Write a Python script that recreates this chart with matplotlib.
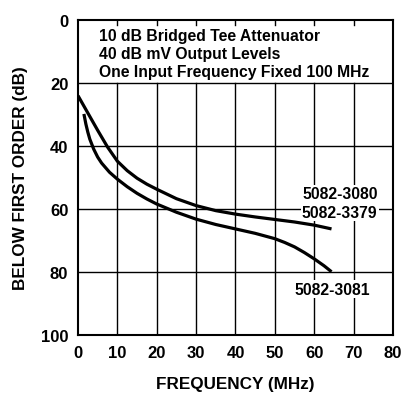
import matplotlib
matplotlib.use("Agg")
import matplotlib.pyplot as plt

plt.rcParams["font.family"] = ["Liberation Sans", "DejaVu Sans"]
plt.rcParams["font.weight"] = "bold"

# 5082-3080 / 5082-3379 (upper curve)
freq_a = [0, 2.5, 5, 7.5, 10, 12.5, 15, 17.5, 20, 25, 30, 35, 40, 45, 50, 55, 60, 64.4]
level_a = [24, 29.5, 35, 40.3, 44.8, 47.8, 50.2, 52.1, 53.7, 56.7, 58.9, 60.5, 61.6, 62.5,
           63.3, 64.1, 65.1, 66.3]

# 5082-3081 (lower curve)
freq_b = [1.5, 2, 2.5, 3, 4, 5, 6, 8, 10, 12.5, 15, 17.5, 20, 25, 30, 35, 40, 45, 50, 52.5,
          55, 57.5, 60, 62.5, 64.4]
level_b = [29.8, 33, 35.6, 37.8, 41, 43.5, 45.4, 48.3, 50.5, 52.9, 55, 56.8, 58.4, 61, 63.2,
           64.9, 66.3, 67.7, 69.4, 70.6, 72.0, 73.8, 75.8, 78, 79.9]

notes = ["10 dB Bridged Tee Attenuator", "40 dB mV Output Levels",
         "One Input Frequency Fixed 100 MHz"]

fig = plt.figure(figsize=(4.09, 4.02), dpi=100)
ax = fig.add_axes([0.1907, 0.164, 0.770, 0.7836])

ax.set_xlim(0, 80)
ax.set_ylim(100, 0)

# grid: horizontal lines full width, vertical lines only below 20 dB
for y in [20, 40, 60, 80]:
    ax.axhline(y, color="black", lw=1.0, zorder=1)
for x in range(10, 80, 10):
    ax.plot([x, x], [20, 100], color="black", lw=1.0, zorder=1)
    ax.plot([x, x], [0, 1.5], color="black", lw=1.0, zorder=1)

ax.plot(freq_a, level_a, color="black", lw=2.3, zorder=3, solid_capstyle="butt")
ax.plot(freq_b, level_b, color="black", lw=2.3, zorder=3, solid_capstyle="butt")

for s in ax.spines.values():
    s.set_linewidth(1.5)

ax.set_xticks(range(0, 81, 10))
ax.set_yticks(range(0, 101, 20))
ax.tick_params(length=0, labelsize=12, pad=7)
for lab in ax.get_xticklabels() + ax.get_yticklabels():
    lab.set_fontweight("bold")

ax.set_xlabel("FREQUENCY (MHz)", fontsize=12.3, fontweight="bold", labelpad=12)
ax.set_ylabel("BELOW FIRST ORDER (dB)", fontsize=12.3, fontweight="bold", labelpad=9)

for i, t in enumerate(notes):
    ax.text(5.3, 4.8 + i * 5.7, t, fontsize=11.3, fontweight="bold", va="center", ha="left")

box = dict(facecolor="white", edgecolor="none", pad=1)
ax.text(66.5, 55.2, "5082-3080", fontsize=11.3, fontweight="bold", ha="center", va="center",
        bbox=box, zorder=4)
ax.text(66.5, 61.0, "5082-3379", fontsize=11.3, fontweight="bold", ha="center", va="center",
        bbox=box, zorder=4)
ax.text(64.7, 85.4, "5082-3081", fontsize=11.3, fontweight="bold", ha="center", va="center",
        bbox=box, zorder=4)

fig.savefig("out.png", dpi=100)
